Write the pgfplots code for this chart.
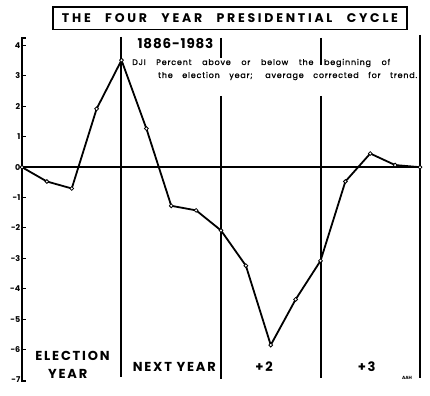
\documentclass[border=0pt]{standalone}
\usepackage{pgfplots}
\pgfplotsset{compat=1.18}
\usepackage{fontspec}
\setmainfont{Poppins}
\begin{document}
\begin{tikzpicture}
\begin{scope}[shift={(-22bp,380bp)}, x=1bp, y=-1bp]
  % frame lines
  \draw[line width=1.5bp] (22,167.2) -- (420,167.2);
  \draw[line width=1.5bp] (121,37) -- (121,377);
  \draw[line width=1.5bp] (221,38) -- (221,58);
  \draw[line width=1.5bp] (221,96) -- (221,379);
  \draw[line width=1.5bp] (321,38) -- (321,65);
  \draw[line width=1.5bp] (321,96) -- (321,378);
  \draw[line width=1.5bp] (420,35) -- (420,378);
  \draw[line width=1.5bp] (26,38) -- (22,38) -- (22,381) -- (26,381);
  % title
  \draw[line width=1.2bp] (53,7) rectangle (407,29.5);
  \node[inner sep=0, font=\bfseries\fontsize{12.5bp}{15bp}\selectfont] at (230,18.5)
    {\addfontfeatures{LetterSpace=22}\makebox[336bp][s]{THE FOUR YEAR PRESIDENTIAL CYCLE}};
  \node[inner sep=0, font=\bfseries\fontsize{13.5bp}{16bp}\selectfont] at (175.5,43.3) {\addfontfeatures{LetterSpace=6}1886-1983};
  \node[anchor=west, inner sep=0, font=\fontsize{8bp}{9bp}\selectfont] at (132,63)
    {\addfontfeatures{LetterSpace=10,FakeBold=1}\makebox[258bp][s]{DJI Percent above or below the beginning of}};
  \node[anchor=west, inner sep=0, font=\fontsize{8bp}{9bp}\selectfont] at (158,76)
    {\addfontfeatures{LetterSpace=10,FakeBold=1}\makebox[259bp][s]{the election year; average corrected for trend.}};
  % bottom labels
  \node[inner sep=0, font=\bfseries\fontsize{13bp}{16bp}\selectfont] at (72.5,356) {\addfontfeatures{LetterSpace=14}ELECTION};
  \node[inner sep=0, font=\bfseries\fontsize{13bp}{16bp}\selectfont] at (67.7,373.5) {\addfontfeatures{LetterSpace=14}YEAR};
  \node[inner sep=0, font=\bfseries\fontsize{13bp}{16bp}\selectfont] at (174.3,367.3) {\addfontfeatures{LetterSpace=14}\makebox[83bp][s]{NEXT YEAR}};
  \node[inner sep=0, font=\bfseries\fontsize{13bp}{16bp}\selectfont] at (264,367) {\addfontfeatures{LetterSpace=14}+2};
  \node[inner sep=0, font=\bfseries\fontsize{13bp}{16bp}\selectfont] at (366.7,367) {\addfontfeatures{LetterSpace=14}+3};
  \node[inner sep=0, font=\bfseries\fontsize{4.5bp}{5bp}\selectfont] at (407,378) {AAH};
\end{scope}
\begin{axis}[
  at={(0,0)}, anchor=south west,
  scale only axis, width=398bp, height=334.4bp,
  xmin=0, xmax=16, ymin=-7, ymax=4,
  axis x line=none, axis y line=left,
  axis line style={draw=none},
  ytick={-7,-6,-5,-4,-3,-2,-1,0,1,2,3,4},
  yticklabels={-7,-6,-5,-4,-3,-2,-1,0,1,2,3,4},
  tick align=inside, major tick length=4bp,
  tick style={line width=1bp, black},
  yticklabel style={font=\bfseries\fontsize{8bp}{8bp}\selectfont, inner sep=1.5bp},
  clip=false,
]
\addplot[black, line width=1.8bp, mark=*, mark size=1.9bp,
  mark options={fill=white, draw=black, line width=0.8bp}] coordinates {
  (0,0) (1,-0.47) (2,-0.70) (3,1.92) (4,3.52) (5,1.27) (6,-1.27) (7,-1.42)
  (8,-2.08) (9,-3.24) (10,-5.85) (11,-4.35) (12,-3.08) (13,-0.47) (14,0.45)
  (15,0.07) (16,0)
};
\end{axis}
\pgfresetboundingbox
\useasboundingbox (-22bp,-16bp) rectangle (408bp,380bp);
\end{tikzpicture}
\end{document}
